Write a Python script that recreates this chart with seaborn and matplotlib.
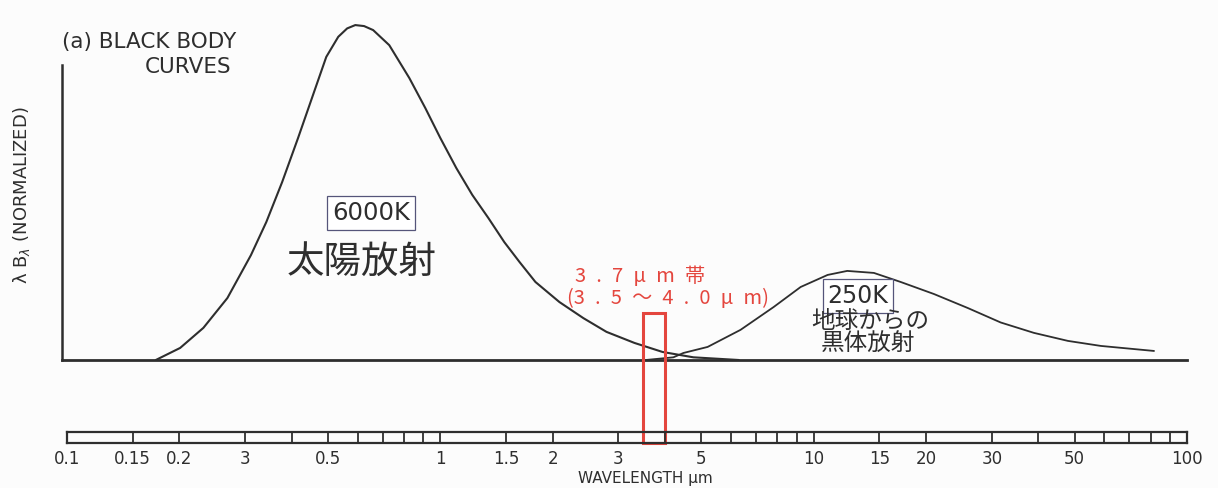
import numpy as np
import pandas as pd
import matplotlib
matplotlib.use("Agg")
import matplotlib.pyplot as plt
from matplotlib.patches import Rectangle
from matplotlib.ticker import NullLocator
import seaborn as sns

# ---- data ----
sun_wl = [0.173, 0.201, 0.232, 0.269, 0.311, 0.342, 0.377, 0.416, 0.459, 0.495,
          0.533, 0.563, 0.592, 0.625, 0.661, 0.730, 0.826, 0.912, 1.0, 1.104,
          1.218, 1.345, 1.484, 1.629, 1.798, 2.085, 2.417, 2.787, 3.311, 3.938,
          4.764, 6.3]
sun_val = [0.0, 0.036, 0.096, 0.185, 0.313, 0.412, 0.531, 0.663, 0.800, 0.905,
           0.965, 0.990, 1.0, 0.997, 0.985, 0.940, 0.842, 0.752, 0.663, 0.573,
           0.493, 0.424, 0.352, 0.293, 0.233, 0.173, 0.125, 0.084, 0.051, 0.024,
           0.008, 0.0]

earth_wl = [3.55, 4.21, 4.48, 5.20, 6.37, 7.81, 9.23, 10.9, 12.3, 14.5,
            17.1, 21.0, 25.9, 31.7, 38.9, 48.0, 58.8, 81.6]
earth_val = [0.0, 0.008, 0.021, 0.039, 0.090, 0.158, 0.218, 0.254, 0.266, 0.260,
             0.233, 0.197, 0.155, 0.112, 0.081, 0.057, 0.042, 0.027]

ruler_divisions = [0.15, 0.2, 0.3, 0.4, 0.5, 0.6, 0.7, 0.8, 0.9, 1, 1.5, 2, 3,
                   4, 5, 6, 7, 8, 9, 10, 15, 20, 30, 40, 50, 60, 70, 80, 90]
tick_values = [0.1, 0.15, 0.2, 0.3, 0.5, 1, 1.5, 2, 3, 5, 10, 15, 20, 30, 50, 100]
tick_labels = ["0.1", "0.15", "0.2", "3", "0.5", "1", "1.5", "2", "3", "5",
               "10", "15", "20", "30", "50", "100"]
band = [3.5, 4.0]

# ---- style ----
sns.set_style("white")
plt.rcParams['font.family'] = ['DejaVu Sans', 'Noto Sans CJK JP']
JP = ['Noto Sans CJK JP', 'DejaVu Sans']
INK = '#2e2e2e'
RED = '#e4463e'

W, H = 1218, 488
fig = plt.figure(figsize=(W / 100, H / 100), dpi=100, facecolor='#fcfcfc')

def fx(x):
    return x / W

def fy(y):
    return 1 - y / H

# main axes: left spine at px 62, 100um at px 1187, baseline px 360, top px 10
ax = fig.add_axes([fx(62), fy(360), fx(1187) - fx(62), fy(10) - fy(360)])
ax.set_facecolor('none')
df_sun = pd.DataFrame({'wl': sun_wl, 'v': sun_val})
df_earth = pd.DataFrame({'wl': earth_wl, 'v': earth_val})
sns.lineplot(data=df_sun, x='wl', y='v', ax=ax, color=INK, lw=1.5)
sns.lineplot(data=df_earth, x='wl', y='v', ax=ax, color=INK, lw=1.3)
ax.set_xscale('log')
ax.set_xlim(0.0970, 100)
ax.set_ylim(0, 1.045)
ax.set_xticks([])
ax.set_yticks([])
ax.xaxis.set_minor_locator(NullLocator())
ax.set_xlabel('')
ax.set_ylabel('')
for s in ['top', 'right']:
    ax.spines[s].set_visible(False)
ax.spines['bottom'].set_color(INK)
ax.spines['bottom'].set_linewidth(2.0)
ax.spines['left'].set_color(INK)
ax.spines['left'].set_linewidth(1.8)
ax.spines['left'].set_bounds(0, 0.88)

# red band box (extends down into the ruler)
ax.add_patch(Rectangle((band[0], -0.248), band[1] - band[0], 0.248 + 0.140,
                       fill=False, edgecolor=RED, lw=2.2, clip_on=False, zorder=5))

# ruler axes
rx = fig.add_axes([fx(67), fy(443), fx(1187) - fx(67), fy(432) - fy(443)])
rx.set_facecolor('none')
rx.set_xscale('log')
rx.set_xlim(0.1, 100)
rx.set_ylim(0, 1)
rx.vlines(ruler_divisions, 0, 1, color=INK, lw=1.3)
rx.set_yticks([])
rx.xaxis.set_minor_locator(NullLocator())
rx.set_xticks(tick_values)
rx.set_xticklabels(tick_labels, fontsize=12, color=INK)
rx.tick_params(axis='x', length=0, pad=5)
for s in rx.spines.values():
    s.set_color(INK)
    s.set_linewidth(1.6)

# texts
fig.text(fx(645), fy(479), "WAVELENGTH μm", ha='center', va='center',
         fontsize=11, color=INK)
fig.text(fx(22), fy(195), r"λ B$_λ$ (NORMALIZED)", rotation=90, ha='center',
         va='center', fontsize=13, color=INK)
fig.text(fx(62), fy(42), "(a) BLACK BODY", ha='left', va='center',
         fontsize=15.5, color=INK)
fig.text(fx(188), fy(67), "CURVES", ha='center', va='center',
         fontsize=15.5, color=INK)

box = dict(boxstyle='square,pad=0.2', facecolor='white', edgecolor='#55557a', lw=0.9)
fig.text(fx(371), fy(213), "6000K", ha='center', va='center', fontsize=17.5,
         color=INK, bbox=box)
fig.text(fx(362), fy(262), "太陽放射", ha='center', va='center', fontsize=27,
         color=INK, family=JP)
fig.text(fx(858), fy(296), "250K", ha='center', va='center', fontsize=17,
         color=INK, bbox=box)
fig.text(fx(870), fy(321), "地球からの", ha='center', va='center', fontsize=17,
         color=INK, family=JP)
fig.text(fx(868), fy(344), "黒体放射", ha='center', va='center', fontsize=17,
         color=INK, family=JP)

sp = "\u2002"
fig.text(fx(640), fy(276), sp.join(["3", ".", "7", "μ", "m", "帯"]),
         ha='center', va='center', fontsize=14.5, color=RED, family=JP)
fig.text(fx(668), fy(298), "(" + sp.join(["3", ".", "5", "〜", "4", ".", "0", "μ", "m"]) + ")",
         ha='center', va='center', fontsize=14.5, color=RED, family=JP)

fig.savefig("out.png", dpi=100, facecolor=fig.get_facecolor())
